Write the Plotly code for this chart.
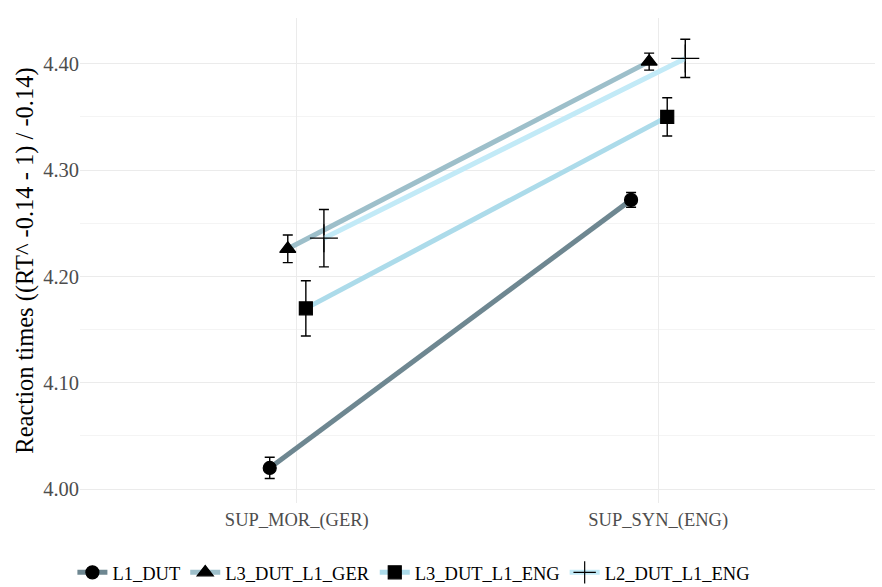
import plotly.graph_objects as go

# Conditions on the x axis
conditions = ["SUP_MOR_(GER)", "SUP_SYN_(ENG)"]

# Group means and standard errors per condition
groups = ["L1_DUT", "L3_DUT_L1_GER", "L3_DUT_L1_ENG", "L2_DUT_L1_ENG"]
means = {
    "L1_DUT": [4.020, 4.272],
    "L3_DUT_L1_GER": [4.226, 4.402],
    "L3_DUT_L1_ENG": [4.170, 4.350],
    "L2_DUT_L1_ENG": [4.236, 4.405],
}
errors = {
    "L1_DUT": [0.010, 0.007],
    "L3_DUT_L1_GER": [0.013, 0.008],
    "L3_DUT_L1_ENG": [0.026, 0.018],
    "L2_DUT_L1_ENG": [0.027, 0.018],
}

y_ticks = [4.00, 4.10, 4.20, 4.30, 4.40]

line_colors = {
    "L1_DUT": "#6e8791",
    "L3_DUT_L1_GER": "#9dbfca",
    "L3_DUT_L1_ENG": "#acdbea",
    "L2_DUT_L1_ENG": "#c2eaf7",
}
symbols = {
    "L1_DUT": "circle",
    "L3_DUT_L1_GER": "triangle-up",
    "L3_DUT_L1_ENG": "square",
    "L2_DUT_L1_ENG": "cross-thin",
}
sizes = {
    "L1_DUT": 13,
    "L3_DUT_L1_GER": 14,
    "L3_DUT_L1_ENG": 13,
    "L2_DUT_L1_ENG": 20,
}

# position dodge (total width 0.2)
dodge = 0.2
n = len(groups)
offsets = [(-dodge / 2 + dodge / n * (i + 0.5)) for i in range(n)]

fig = go.Figure()
for g, off in zip(groups, offsets):
    xs = [i + 1 + off for i in range(len(conditions))]
    fig.add_trace(go.Scatter(
        x=xs, y=means[g], name=g, mode="lines+markers",
        line=dict(color=line_colors[g], width=5),
        marker=dict(symbol=symbols[g], size=sizes[g], color="black",
                    line=dict(color="black", width=1.2)),
        error_y=dict(type="data", array=errors[g], visible=True,
                     color="black", thickness=1.4, width=5),
    ))

serif = "Liberation Serif"
fig.update_layout(
    width=882, height=587,
    margin=dict(l=80, r=7, t=18, b=84, autoexpand=False),
    paper_bgcolor="white", plot_bgcolor="white",
    font=dict(family=serif, color="#4d4d4d", size=18),
    showlegend=True,
    legend=dict(orientation="h", x=0.42, xanchor="center", y=-0.144, yanchor="middle",
                font=dict(family=serif, size=18.5, color="black"),
                itemwidth=30, tracegroupgap=0),
    xaxis=dict(
        range=[0.4, 2.6], tickvals=[1, 2], ticktext=conditions,
        showgrid=True, gridcolor="#ebebeb", gridwidth=1.2,
        zeroline=False, showline=False, ticks="",
        tickfont=dict(family=serif, size=18.5, color="#4d4d4d"),
        ticklabelstandoff=3,
    ),
    yaxis=dict(
        range=[3.987, 4.443], tickvals=y_ticks, tickformat=".2f",
        showgrid=True, gridcolor="#ebebeb", gridwidth=1.2,
        minor=dict(dtick=0.05, tick0=4.05, showgrid=True, gridcolor="#f4f4f4", gridwidth=1),
        zeroline=False, showline=False, ticks="",
        tickfont=dict(family=serif, size=20.5, color="#4d4d4d"),
        title=dict(text="Reaction times ((RT^ -0.14 - 1) / -0.14)",
                   font=dict(size=24.5, color="black", family=serif), standoff=2),
    ),
)

fig.write_html("out.html")
